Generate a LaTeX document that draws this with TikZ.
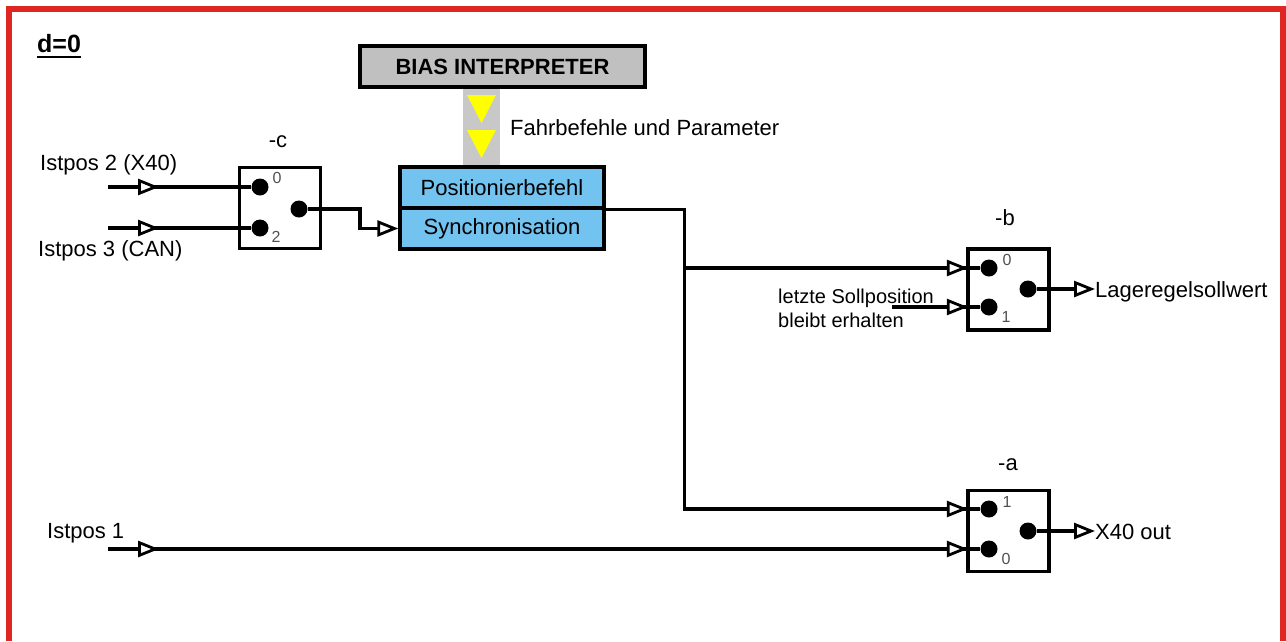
\documentclass[tikz,border=0pt]{standalone}
\usepackage{fontspec}
\setmainfont{Liberation Sans}
\usetikzlibrary{arrows.meta,decorations.markings,calc}
\definecolor{framered}{RGB}{222,38,34}
\definecolor{biasgray}{RGB}{192,192,192}
\definecolor{bandgray}{RGB}{200,200,200}
\definecolor{blueb}{RGB}{115,195,240}
\definecolor{digitgray}{RGB}{80,80,80}
\definecolor{yel}{RGB}{255,255,0}
\begin{document}
\begin{tikzpicture}[x=1pt,y=-1pt,
  txt/.style={inner sep=0pt, font=\fontsize{22}{26}\selectfont},
  smalltxt/.style={inner sep=0pt, font=\fontsize{20}{24}\selectfont},
  digitlbl/.style={inner sep=0pt, font=\fontsize{16}{18}\selectfont, text=digitgray},
  switchbox/.style={draw, line width=3.3pt, minimum width=81pt, minimum height=81pt, inner sep=0pt},
  bluebox/.style={draw, line width=3.3pt, fill=blueb, minimum width=204pt, minimum height=41pt, inner sep=0pt, font=\fontsize{22}{26}\selectfont},
  dot/.style={circle, fill=black, inner sep=0pt, minimum size=17pt},
  conn/.style={line width=3.2pt},
  opentip/.tip={Triangle[length=21pt,width=16pt,fill=white,line width=2.8pt]},
  midarrow/.style={postaction={decorate, decoration={markings, mark=at position #1 with {\arrow{opentip}}}}},
  inarrow/.style={postaction={decorate, decoration={markings, mark=at position -12.5pt with {\arrow{opentip}}}}}
]
\useasboundingbox (0,0) rectangle (1286,641);
% frame
\draw[framered, line width=6pt] (9,641) -- (9,9) -- (1283,9) -- (1283,641);
% title
\node[anchor=base west, inner sep=0pt, font=\fontsize{25}{30}\selectfont\bfseries] (d0) at (37,52) {d=0};
\draw[line width=2.5pt] ([yshift=-5pt]d0.base west) -- ([yshift=-5pt]d0.base east);
% band and triangles
\fill[bandgray] (463,86) rectangle (500,168);
\fill[yel] (467,95) -- (496,95) -- (481.5,123) -- cycle;
\fill[yel] (467,130) -- (496,130) -- (481.5,158) -- cycle;
% bias interpreter
\node[draw, line width=3.3pt, fill=biasgray, minimum width=285pt, minimum height=41pt, inner sep=0pt,
      font=\fontsize{22}{26}\selectfont\bfseries] (bias) at (502.5,66.5) {BIAS INTERPRETER};
\node[txt, anchor=base west] (fahr) at (510,135) {Fahrbefehle und Parameter};
% blue boxes
\node[bluebox] (pos) at (502,187.5) {Positionierbefehl};
\node[bluebox] (sync) at (502,228.5) {Synchronisation};
% switch c
\node[switchbox] (swc) at (280,208) {};
\node[txt, anchor=base] (lc) at (278,147) {-c};
\node[dot] (c0) at (260,187) {};
\node[dot] (c2) at (260,228) {};
\node[dot] (cout) at (299,209) {};
\node[digitlbl] (c0l) at (277,178) {0};
\node[digitlbl] (c2l) at (276,237) {2};
% switch b
\node[switchbox] (swb) at (1008.5,289.5) {};
\node[txt, anchor=base] (lb) at (1005,225) {-b};
\node[dot] (b0) at (989,268) {};
\node[dot] (b1) at (989,307) {};
\node[dot] (bout) at (1028,289) {};
\node[digitlbl] (b0l) at (1007,260) {0};
\node[digitlbl] (b1l) at (1006,317) {1};
% switch a
\node[switchbox] (swa) at (1008.5,531) {};
\node[txt, anchor=base] (la) at (1008,470) {-a};
\node[dot] (a1) at (989,509) {};
\node[dot] (a0) at (989,549) {};
\node[dot] (aout) at (1028,531) {};
\node[digitlbl] (a1l) at (1007,502) {1};
\node[digitlbl] (a0l) at (1006,559) {0};
% input labels
\node[txt, anchor=base west] (ip2) at (40,170) {Istpos 2 (X40)};
\node[txt, anchor=base west] (ip3) at (38,256) {Istpos 3 (CAN)};
\node[txt, anchor=base west] (ip1) at (47,538) {Istpos 1};
\node[smalltxt, anchor=base west] (lsp1) at (778,303) {letzte Sollposition};
\node[smalltxt, anchor=base west] (lsp2) at (778,327) {bleibt erhalten};
% output labels
\node[txt, anchor=base west] (lrs) at (1095,297) {Lageregelsollwert};
\node[txt, anchor=base west] (xout) at (1095,539) {X40 out};
% start coordinates
\coordinate (s2) at (108,187);
\coordinate (s3) at (108,228);
\coordinate (s1) at (108,549);
\coordinate (sl) at (892,307);
% connectors
\draw[conn, midarrow=51pt] (s2) -- (c0);
\draw[conn, midarrow=51pt] (s3) -- (c2);
\draw[conn, -opentip] (cout) -- ++(61,0) |- (sync.west);
\draw[conn, inarrow] (pos.south east) -- ++(79,0) coordinate (jt) |- (a1);
\draw[conn, inarrow] (jt |- b0) -- (b0);
\draw[conn, inarrow] (sl) -- (b1);
\draw[conn, midarrow=51pt, inarrow] (s1) -- (a0);
\draw[conn, -opentip] (bout) -- (bout -| lrs.west);
\draw[conn, -opentip] (aout) -- (aout -| xout.west);
\end{tikzpicture}
\end{document}
